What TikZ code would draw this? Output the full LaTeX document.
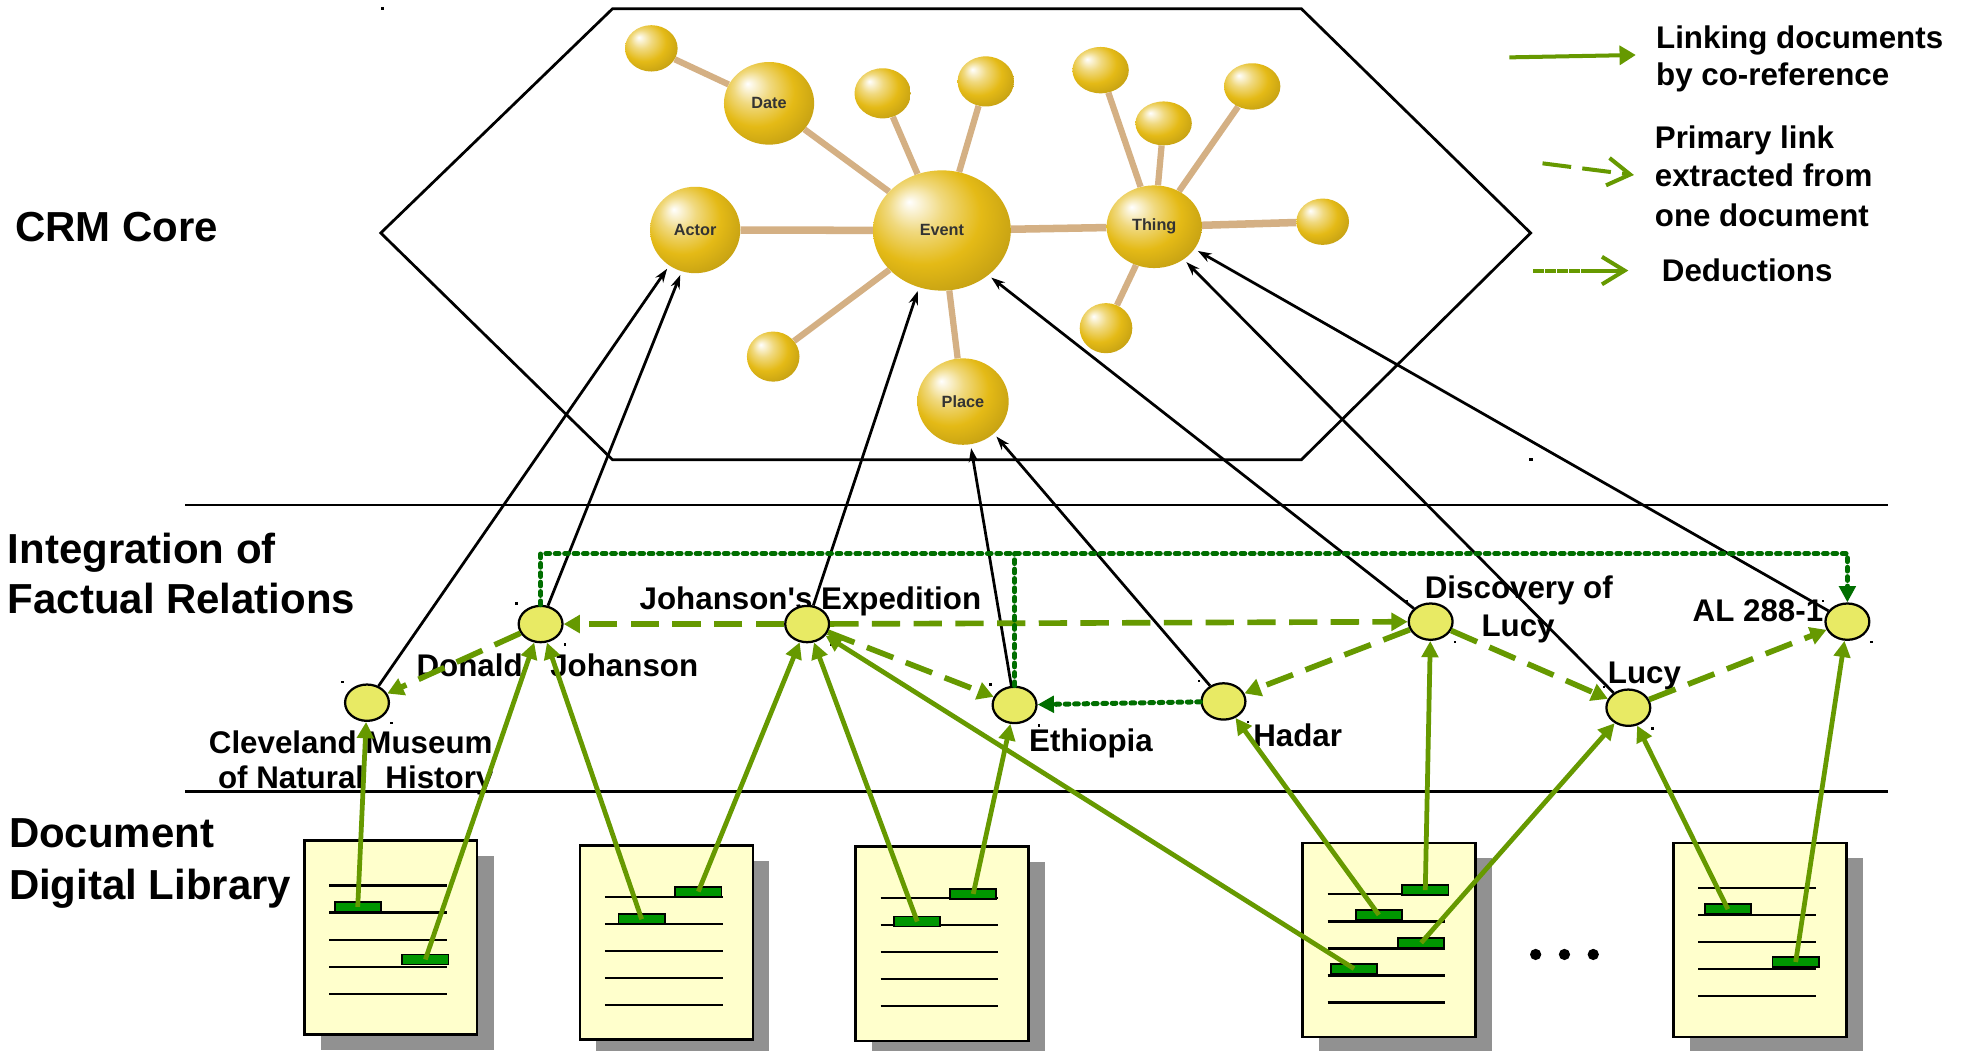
\documentclass[tikz,border=0pt]{standalone}
\usepackage{fontspec}
\setmainfont{Liberation Sans}[Ligatures=TeXOff]
\usetikzlibrary{shapes.geometric,arrows.meta,backgrounds}
\definecolor{LinkGreen}{RGB}{102,153,0}
\definecolor{DeduceGreen}{RGB}{0,110,0}
\definecolor{MarkGreen}{RGB}{0,150,0}
\definecolor{NodeYellow}{RGB}{232,234,100}
\definecolor{PaperYellow}{RGB}{255,255,204}
\definecolor{PaperShadow}{RGB}{145,145,145}
\definecolor{SphereGold}{RGB}{228,186,22}
\definecolor{RodTan}{RGB}{212,176,132}
\pgfdeclareradialshading{goldball}{\pgfpoint{-12bp}{12bp}}{color(0bp)=(white); color(10bp)=(SphereGold!55!white); color(21bp)=(SphereGold); color(33bp)=(SphereGold!85!black); color(44bp)=(SphereGold!60!black); color(50bp)=(SphereGold!40!black)}

\begin{document}
\begin{tikzpicture}[x=1pt, y=-1pt,
  fact/.style={ellipse, draw=black, line width=1.8pt, fill=NodeYellow, minimum width=35pt, minimum height=29pt, inner sep=0pt},
  sphere/.style={ellipse, shade, shading=goldball, inner sep=0pt, font=\fontsize{13}{13}\bfseries, text=black!80},
  rod/.style={line width=5pt, RodTan},
  hilite/.style={draw=black, line width=1.5pt, fill=MarkGreen, minimum width=37pt, minimum height=8pt, inner sep=0pt},
  tier/.style={font=\fontsize{33.5}{40}\bfseries, inner sep=0pt, anchor=base west},
  lbl/.style={font=\fontsize{25}{30}\bfseries, inner sep=0pt},
  coref/.style={line width=3.8pt, LinkGreen, -{Triangle[length=13pt,width=13pt]}},
  primary/.style={line width=4.5pt, LinkGreen, dash pattern=on 22.6pt off 10.7pt, -{Triangle[length=13pt,width=14pt]}},
  deduce/.style={line width=4pt, DeduceGreen, line cap=round, dash pattern=on 3pt off 4.5pt, -{Triangle[length=13pt,width=13pt]}},
  tocore/.style={line width=2.2pt, -{Stealth[length=11pt,width=7.5pt]}, shorten >=3pt},
  keyhead/.style={line width=3.2pt, LinkGreen, -{Straight Barb[length=18pt,width=22pt]}},
  ]

\begin{scope}[on background layer]
\fill[white] (0,0) rectangle (1568,839); % page
\end{scope}
\useasboundingbox (0,0) rectangle (1568,839);

% CRM core
\draw[line width=2.2pt] (304,186) -- (489,7) -- (1039,7) -- (1222,186) -- (1039,367) -- (489,367) -- cycle;
\fill (304,5.5) rectangle ++(2.5,2.5);
\fill (1221,365.5) rectangle ++(2.5,2.5);

\node[sphere, minimum width=42pt, minimum height=37pt] (s1) at (520,38.6) {};
\node[sphere, minimum width=72pt, minimum height=66pt] (date) at (614,82.5) {Date};
\node[sphere, minimum width=45pt, minimum height=40pt] (s3) at (704.7,74.5) {};
\node[sphere, minimum width=45pt, minimum height=40pt] (s4) at (787,65) {};
\node[sphere, minimum width=72pt, minimum height=69pt] (actor) at (555,183.6) {Actor};
\node[sphere, minimum width=110pt, minimum height=96pt] (event) at (752,184) {Event};
\node[sphere, minimum width=76pt, minimum height=66pt] (thing) at (921.5,181) {Thing};
\node[sphere, minimum width=42pt, minimum height=37pt] (s8) at (1056,177) {};
\node[sphere, minimum width=45pt, minimum height=37pt] (s9) at (878.7,56) {};
\node[sphere, minimum width=45pt, minimum height=35pt] (s10) at (929,98.5) {};
\node[sphere, minimum width=45pt, minimum height=37pt] (s11) at (999.7,69) {};
\node[sphere, minimum width=42pt, minimum height=40pt] (s12) at (617.3,284.7) {};
\node[sphere, minimum width=42pt, minimum height=40pt] (s13) at (883,262) {};
\node[sphere, minimum width=73pt, minimum height=69pt] (place) at (768.8,320.6) {Place};

\begin{scope}[on background layer]
\draw[rod] (s1) -- (date);
\draw[rod] (date) -- (event);
\draw[rod] (s3) -- (event);
\draw[rod] (s4) -- (event);
\draw[rod, line width=6pt] (actor) -- (event);
\draw[rod, line width=6pt] (event) -- (thing);
\draw[rod, line width=6pt] (thing) -- (s8);
\draw[rod] (thing) -- (s9);
\draw[rod] (thing) -- (s10);
\draw[rod] (thing) -- (s11);
\draw[rod] (event) -- (s12);
\draw[rod] (event) -- (place);
\draw[rod] (thing) -- (s13);
\end{scope}

% layers
\draw[line width=2pt] (148,403) -- (1507,403);
\draw[line width=2pt] (148,632) -- (1507,632);
\node[tier] (crm) at (12,193) {CRM Core};
\node[tier] (integ1) at (6,450) {Integration of};
\node[tier] (integ2) at (6,490) {Factual Relations};
\node[tier] (lib1) at (7,677) {Document};
\node[tier] (lib2) at (7,718) {Digital Library};

% documents
\foreach \l/\t/\f in {243/671/36, 463/675/41, 683/676/41, 1040/673/41, 1336/673/36} {
  \fill[PaperShadow] (\l+13,\t+12) rectangle ++(138,155); % shadow
  \filldraw[fill=PaperYellow, draw=black, line width=2pt] (\l,\t) rectangle ++(138,155); % page
  \foreach \k in {0,...,4}
    \draw[line width=1.8pt] (\l+20,\t+\f+\k*21.6) -- ++(94,0); % text lines
}
\node[hilite] (d1a) at (285.6,724) {};
\node[hilite] (d1b) at (339.6,766) {};
\node[hilite] (d2a) at (557.5,711.8) {};
\node[hilite] (d2b) at (512.3,733.9) {};
\node[hilite] (d3a) at (777,713.7) {};
\node[hilite] (d3b) at (732.3,735.7) {};
\node[hilite] (d4a) at (1137.9,710.6) {};
\node[hilite] (d4b) at (1100.8,730.4) {};
\node[hilite] (d4c) at (1134.6,752.7) {};
\node[hilite] (d4d) at (1081,773.3) {};
\node[hilite] (d5a) at (1379.5,725.9) {};
\node[hilite] (d5b) at (1433.6,768) {};
\foreach \x in {1226,1249,1272}
  \fill (\x,762) circle (4.5pt); % more documents

% fact labels
\node[lbl, anchor=base] (clevelandtxt) at (280,601.4) {Cleveland Museum};
\node[lbl, anchor=base] (clevelandtxt2) at (284,629.3) {of Natural\hspace{17pt}History};
\node[lbl, anchor=base] (donaldtxt) at (445,539.7) {Donald\hspace{22pt}Johanson};
\node[lbl, anchor=base west] (expeditiontxt) at (510.5,486.2) {Johanson's Expedition};
\node[lbl, anchor=base west] (ethiopiatxt) at (821.5,600) {Ethiopia};
\node[lbl, anchor=base west] (hadartxt) at (1000.4,596) {Hadar};
\node[lbl, anchor=base] (discoverytxt) at (1212.6,477.7) {Discovery of};
\node[lbl, anchor=base] (discoverytxt2) at (1212,508.3) {Lucy};
\node[lbl, anchor=base west] (lucytxt) at (1283.5,546) {Lucy};
\node[lbl, anchor=base west] (altxt) at (1351.2,496.3) {AL 288-1};

% facts
\node[fact] (cleveland) at (293,561) {};
\node[fact] (donald) at (431.6,498.2) {};
\node[fact] (expedition) at (644.4,498.2) {};
\node[fact] (ethiopia) at (810,562.8) {};
\node[fact] (hadar) at (976.8,560) {};
\node[fact] (discovery) at (1142.2,496.3) {};
\node[fact] (lucy) at (1300,565) {};
\node[fact] (al) at (1474.9,496.3) {};
\foreach \n in {cleveland,donald,expedition,ethiopia,hadar,discovery,lucy,al} {
  \fill (\n.west |- \n.north) rectangle ++(-2,-2);
  \fill (\n.east |- \n.south) rectangle ++(2,2);
}

% links to the core
\draw[tocore] (cleveland) -- (actor.234);
\draw[tocore] (donald) -- (actor.252);
\draw[tocore] (expedition) -- (event.248);
\draw[tocore] (discovery) -- (event.316);
\draw[tocore] (ethiopia) -- (place.280);
\draw[tocore] (hadar) -- (place.314);
\draw[tocore] (lucy) -- (thing.312);
\draw[tocore] (al) -- (thing.331);

% primary links
\draw[primary] (expedition) -- (donald);
\draw[primary] (expedition) -- (discovery);
\draw[primary] (donald) -- (cleveland);
\draw[primary] (expedition) -- (ethiopia);
\draw[primary] (discovery) -- (hadar);
\draw[primary] (discovery) -- (lucy);
\draw[primary] (lucy) -- (al);

% deductions
\coordinate (bar) at (0,442);
\draw[deduce] (donald.north) |- (al.north |- bar) -- (al.north);
\draw[deduce, -] (ethiopia.north) -- (ethiopia.north |- bar);
\draw[deduce] (hadar) -- (ethiopia);

% co-reference
\draw[coref] (d1a.center) -- (cleveland);
\draw[coref] (d1b.center) -- (donald);
\draw[coref] (d2a.center) -- (expedition);
\draw[coref] (d2b.center) -- (donald);
\draw[coref] (d3a.center) -- (ethiopia);
\draw[coref] (d3b.center) -- (expedition);
\draw[coref] (d4a.center) -- (discovery);
\draw[coref] (d4b.center) -- (hadar);
\draw[coref] (d4c.center) -- (lucy);
\draw[coref] (d4d.center) -- (expedition);
\draw[coref] (d5a.center) -- (lucy);
\draw[coref] (d5b.center) -- (al);

% legend
\node[lbl, anchor=base west] (leg1a) at (1322,38.6) {Linking documents};
\node[lbl, anchor=base west] (leg1b) at (1322,67.9) {by co-reference};
\node[lbl, anchor=base west] (leg2a) at (1321,118.4) {Primary link};
\node[lbl, anchor=base west] (leg2b) at (1321,149) {extracted from};
\node[lbl, anchor=base west] (leg2c) at (1321,181) {one document};
\node[lbl, anchor=base west] (leg3) at (1326.6,225) {Deductions};
\coordinate (k1a) at (1205,45.8); \coordinate (k1b) at (1306,43.9);
\coordinate (k2a) at (1231.5,130.4); \coordinate (k2b) at (1304.5,139.7);
\coordinate (k3a) at (1224,216); \coordinate (k3b) at (1300,216);
\draw[coref, line width=3.2pt, -{Triangle[length=13pt,width=15pt]}] (k1a) -- (k1b);
\draw[keyhead, dash pattern=on 23pt off 9pt] (k2a) -- (k2b);
\draw[keyhead, dash pattern=on 9pt off 0.6pt] (k3a) -- (k3b);

\end{tikzpicture}
\end{document}
